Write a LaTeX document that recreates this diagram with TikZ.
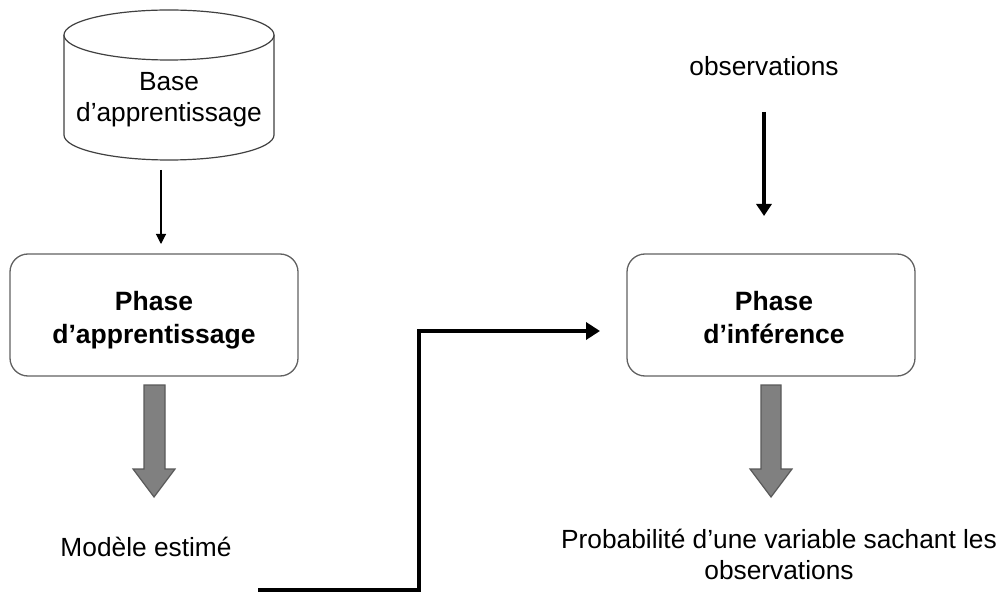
\documentclass[tikz,border=0pt]{standalone}
\usepackage{fontspec}
\setmainfont{Liberation Sans}
\usetikzlibrary{arrows.meta}
\newcommand{\downstrut}{\rule{0pt}{33.1pt}}
\tikzset{
  x=1pt,y=-1pt,
  lbl/.style={align=center,inner sep=0pt,font=\fontsize{26.3}{31}\selectfont,text=black},
  phasebox/.style={draw=black!62,line width=1.3pt,rounded corners=18pt,minimum width=288pt,minimum height=122pt,inner sep=0pt,align=center,font=\fontsize{26.5}{33}\selectfont\bfseries},
  cyl/.style={draw=black!75,line width=1.2pt,fill=white},
  thinarrow/.style={draw=black,line width=1.1pt,-{Triangle[length=10pt,width=10pt]}},
  thickarrow/.style={draw=black,line width=4pt,-{Triangle[length=12pt,width=15pt]}},
  elbow/.style={draw=black,line width=4.6pt,miter limit=4,-{Triangle[length=14pt,width=17pt]}},
  grayarrow/.style={draw=black!65,line width=1.2pt,fill=black!50,line join=miter}
}
\begin{document}
\begin{tikzpicture}
\useasboundingbox (0,0) rectangle (1003,593);
% cylinder
\path[cyl] (64,35) -- (64,135) arc[start angle=180,end angle=0,x radius=105,y radius=25] -- (274,35);
\path[cyl] (169,35) ellipse[x radius=105,y radius=25];
\node[lbl] (base) at (169,100) {\strut Base\\\strut d’apprentissage};
\coordinate (basebot) at (161,170);
\node[phasebox] (pa) at (154,315) {\downstrut Phase\\\strut d’apprentissage};
\node[phasebox] (pi) at (771,315) {\downstrut\hspace*{6pt}Phase\\\strut\hspace*{6pt}d’inférence};
\node[lbl] (modele) at (146,547) {Modèle estimé};
\node[lbl] (obs) at (764,66) {observations};
\node[lbl] (proba) at (779,558) {\strut Probabilité d’une variable sachant les\\\strut observations};
\coordinate (elbowstart) at (258,590);
\draw[thinarrow] (basebot) -- (161,244);
\draw[thickarrow] (obs.south) ++(0,36) -- (764,216);
\draw[elbow] (elbowstart) -- (419,590) -- (419,331) -- (600,331);
% grey block arrows
\path[grayarrow] (144,385) -- (165,385) -- (165,469) -- (175,469) -- (154,497) -- (133,469) -- (144,469) -- cycle;
\path[grayarrow] (761,385) -- (781,385) -- (781,469) -- (792,469) -- (771,497) -- (750,469) -- (761,469) -- cycle;
\end{tikzpicture}
\end{document}
